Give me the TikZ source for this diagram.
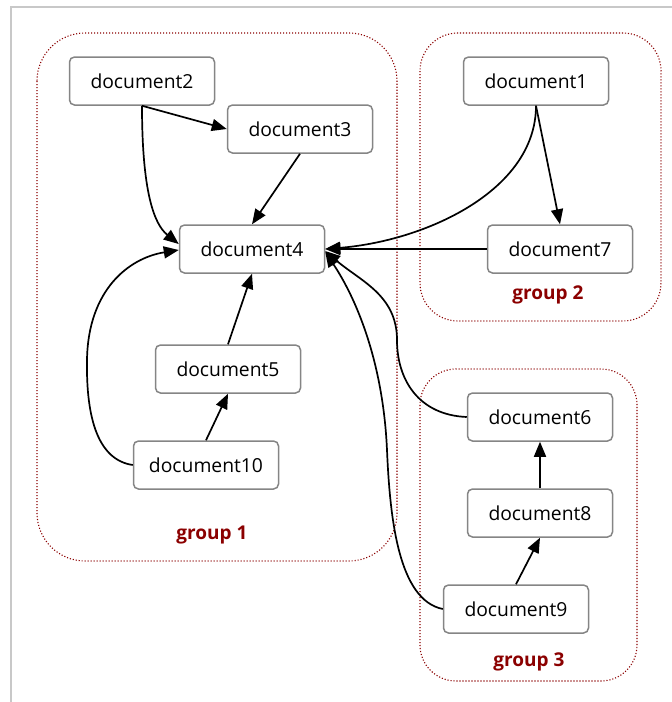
\documentclass[tikz,border=0pt]{standalone}
\usepackage{fontspec}
\setmainfont{Open Sans}
\usetikzlibrary{arrows.meta}
\definecolor{grpred}{HTML}{8B0000}
\definecolor{boxgray}{HTML}{858585}
\definecolor{framegray}{HTML}{C8C8C8}
\tikzset{
  doc/.style={draw=boxgray, line width=1.5pt, rounded corners=5pt, fill=white,
    minimum width=145pt, minimum height=48pt, inner sep=0pt,
    font=\fontsize{19.3}{22}\selectfont},
  grp/.style={draw=grpred, line width=1.1pt, dash pattern=on 1.1pt off 1.9pt},
  grplabel/.style={text=grpred, font=\fontsize{19}{22}\selectfont\bfseries},
  edge/.style={line width=1.7pt, -{Triangle[length=15pt,width=12pt]}},
}
\begin{document}
\begin{tikzpicture}[x=1pt,y=-1pt]
\useasboundingbox (0,0) rectangle (672,702);
% frame
\draw[framegray, line width=2pt] (672,7) -- (11,7) -- (11,702);
% groups
\draw[grp, rounded corners=48pt] (37,33) rectangle (397,561);
\draw[grp, rounded corners=38pt] (420,33) rectangle (661,321);
\draw[grp, rounded corners=36pt] (420,369) rectangle (637,681);
\node[grplabel] (g1) at (212,535) {group 1};
\node[grplabel] (g2) at (548,295) {group 2};
\node[grplabel] (g3) at (529,662) {group 3};
% nodes
\node[doc] (d2) at (142,81) {document2};
\node[doc] (d3) at (300,129) {document3};
\node[doc] (d4) at (252,249) {document4};
\node[doc] (d1) at (536,81) {document1};
\node[doc] (d7) at (560,249) {document7};
\node[doc] (d5) at (228,369) {document5};
\node[doc] (d10) at (206,465) {document10};
\node[doc] (d6) at (540,417) {document6};
\node[doc] (d8) at (540,513) {document8};
\node[doc] (d9) at (516,609) {document9};
% edges
\draw[edge] (d2.south) -- (d3.west);
\draw[edge] (d2.south) .. controls +(0,85) and +(-25,-20) .. ([yshift=5pt]d4.west);
\draw[edge] (d3.south) -- (d4.north);
\draw[edge] (d1.south) -- (d7.north);
\draw[edge] (d1.south) .. controls +(0,85) and +(100,-8) .. (d4.east);
\draw[edge] (d7.west) -- (d4.east);
\draw[edge] (d5.north) -- (d4.south);
\draw[edge] (d10.north) -- (d5.south);
\coordinate (c10) at (87,360);
\draw[edge] (d10.west) .. controls +(-34,-5) and +(-1,60) .. (c10) .. controls +(1,-70) and +(-50,8) .. ([yshift=-1pt]d4.west);
\coordinate (c6) at (397,340);
\draw[edge] (d6.west) .. controls +(-48,-2) and +(0,40) .. (c6) .. controls +(0,-45) and +(35,30) .. ([yshift=-2pt]d4.east);
\coordinate (c9) at (387,450);
\draw[edge] (d9.west) .. controls +(-44,-9) and +(3,70) .. (c9) .. controls +(-4,-90) and +(30,45) .. ([yshift=-3pt]d4.east);
\draw[edge] (d8.north) -- (d6.south);
\draw[edge] (d9.north) -- (d8.south);
\end{tikzpicture}
\end{document}
